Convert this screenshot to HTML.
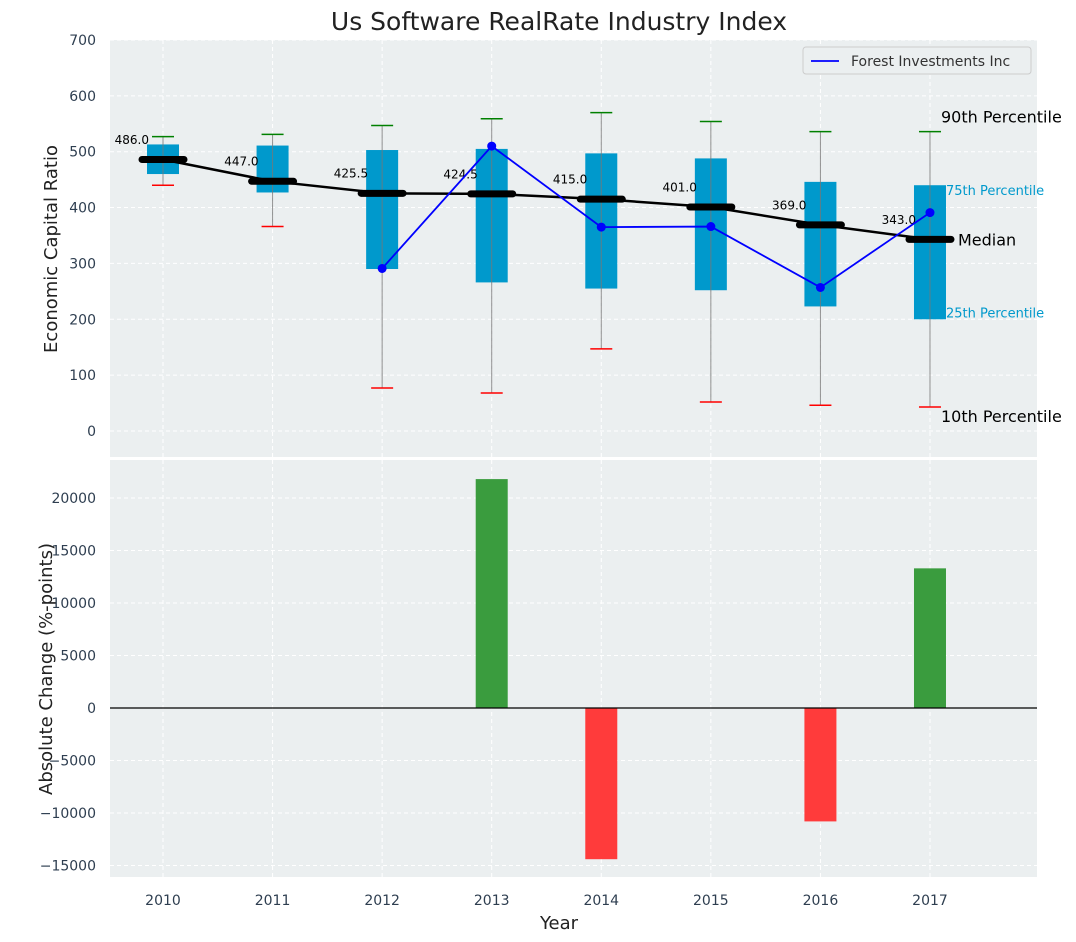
<!DOCTYPE html>
<html><head><meta charset="utf-8"><style>
body{margin:0;background:#fff;}
svg{display:block;font-family:"DejaVu Sans","Liberation Sans",sans-serif;overflow:visible}
</style></head><body>
<svg id="c" width="1076" height="942"></svg>
<script>
const years=["2010","2011","2012","2013","2014","2015","2016","2017"];
const p10=[440,366,77,68,147,52,46,43];
const q1=[460,427,290,266,255,252,223,200];
const med=[486,447,425.5,424.5,415,401,369,343];
const q3=[513,511,503,505,497,488,446,440];
const p90=[527,531,547,559,570,554,536,536];
const forestIdx=[2,3,4,5,6,7];
const forestVals=[291,510,365,366,257,391];
const changes=[0,0,0,21800,-14400,0,-10800,13300];
const topTicks=[0,100,200,300,400,500,600,700];
const botTicks=[-15000,-10000,-5000,0,5000,10000,15000,20000];

const NS="http://www.w3.org/2000/svg";
const svg=document.getElementById('c');
function el(t,a,txt){const e=document.createElementNS(NS,t);for(const k in a)e.setAttribute(k,a[k]);if(txt!==undefined)e.textContent=txt;svg.appendChild(e);return e;}
const L=110,R=1037;
const X=i=>163+i*109.57;
const Y1=v=>431-v*0.5586;
const Y2=v=>708-v*0.0105;
const T1=40,B1=457,T2=460,B2=877;

let e;
e=el('rect',{x:L,y:T1,width:R-L,height:B1-T1,fill:'#ebeff0'});

e=el('rect',{x:L,y:T2,width:R-L,height:B2-T2,fill:'#ebeff0'});

years.forEach((y,i)=>{
 el('line',{x1:X(i),x2:X(i),y1:T1,y2:B1,stroke:'#fff','stroke-dasharray':'4,3','stroke-width':1});
 el('line',{x1:X(i),x2:X(i),y1:T2,y2:B2,stroke:'#fff','stroke-dasharray':'4,3','stroke-width':1});
 e=el('text',{x:X(i),y:905,'text-anchor':'middle','font-size':14,fill:'#2e3e50'},y);
 
});
topTicks.forEach(t=>{
 el('line',{x1:L,x2:R,y1:Y1(t),y2:Y1(t),stroke:'#fff','stroke-dasharray':'4,3'});
 e=el('text',{x:96,y:Y1(t)+5,'text-anchor':'end','font-size':14,fill:'#2e3e50'},t);
 
});
botTicks.forEach(t=>{
 el('line',{x1:L,x2:R,y1:Y2(t),y2:Y2(t),stroke:'#fff','stroke-dasharray':'4,3'});
 e=el('text',{x:96,y:Y2(t)+5,'text-anchor':'end','font-size':14,fill:'#2e3e50'},t<0?'\u2212'+(-t):t);
 
});
years.forEach((y,i)=>{
 const x=X(i);
 e=el('rect',{x:x-16,y:Y1(q3[i]),width:32,height:Y1(q1[i])-Y1(q3[i]),fill:'#0099cc'});
 
 el('line',{x1:x,x2:x,y1:Y1(p90[i]),y2:Y1(p10[i]),stroke:'#777','stroke-width':1,'stroke-opacity':0.8});
 el('line',{x1:x-11,x2:x+11,y1:Y1(p90[i]),y2:Y1(p90[i]),stroke:'green','stroke-width':1.5});
 el('line',{x1:x-11,x2:x+11,y1:Y1(p10[i]),y2:Y1(p10[i]),stroke:'red','stroke-width':1.5});
});
e=el('polyline',{points:med.map((m,i)=>X(i)+','+Y1(m)).join(' '),fill:'none',stroke:'#000','stroke-width':2.5});

years.forEach((y,i)=>{
 e=el('line',{x1:X(i)-21,x2:X(i)+21,y1:Y1(med[i]),y2:Y1(med[i]),stroke:'#000','stroke-width':7,'stroke-linecap':'round'});
 
 e=el('text',{x:X(i)-14,y:Y1(med[i]+10)-10,'text-anchor':'end','font-size':12,fill:'#000'},med[i].toFixed(1));
 
});
e=el('polyline',{points:forestIdx.map((j,k)=>X(j)+','+Y1(forestVals[k])).join(' '),fill:'none',stroke:'#0000ff','stroke-width':1.8});

forestIdx.forEach((j,k)=>{e=el('circle',{cx:X(j),cy:Y1(forestVals[k]),r:4.5,fill:'#0000ff'});
 });
const li=7,lx=X(li);
[['90th Percentile',lx+11,Y1(p90[li])-9,16,'#000'],['75th Percentile',lx+16,Y1(q3[li])+10,13,'#0099cc'],
 ['Median',lx+28,Y1(med[li])+6,16,'#000'],['25th Percentile',lx+16,Y1(q1[li])-2,13,'#0099cc'],
 ['10th Percentile',lx+11,Y1(p10[li])+15,16,'#000']].forEach(a=>{
 e=el('text',{x:a[1],y:a[2],'font-size':a[3],fill:a[4]},a[0]);
 });
years.forEach((y,i)=>{
 const v=changes[i]; if(!v)return;
 e=el('rect',{x:X(i)-16,y:Math.min(Y2(v),Y2(0)),width:32,height:Math.abs(Y2(v)-Y2(0)),fill:v>0?'#3a9c3e':'#ff3b3b'});
 
});
el('line',{x1:L,x2:R,y1:Y2(0),y2:Y2(0),stroke:'#000','stroke-width':1.2});
e=el('rect',{x:803,y:47,width:228,height:27,fill:'#ebeff0',stroke:'#ccc',rx:3});

el('line',{x1:811,x2:839,y1:61,y2:61,stroke:'#0000ff','stroke-width':1.8});
e=el('text',{x:851,y:66,'font-size':14,fill:'#333'},'Forest Investments Inc');

e=el('text',{x:559,y:30,'text-anchor':'middle','font-size':25,fill:'#222'},'Us Software RealRate Industry Index');

e=el('text',{x:559,y:929,'text-anchor':'middle','font-size':18,fill:'#222'},'Year');

e=el('text',{x:0,y:0,'text-anchor':'middle','font-size':18,fill:'#222',transform:'translate(57,249) rotate(-90)'},'Economic Capital Ratio');

e=el('text',{x:0,y:0,'text-anchor':'middle','font-size':18,fill:'#222',transform:'translate(52,669) rotate(-90)'},'Absolute Change (%-points)');

</script>
</body></html>
